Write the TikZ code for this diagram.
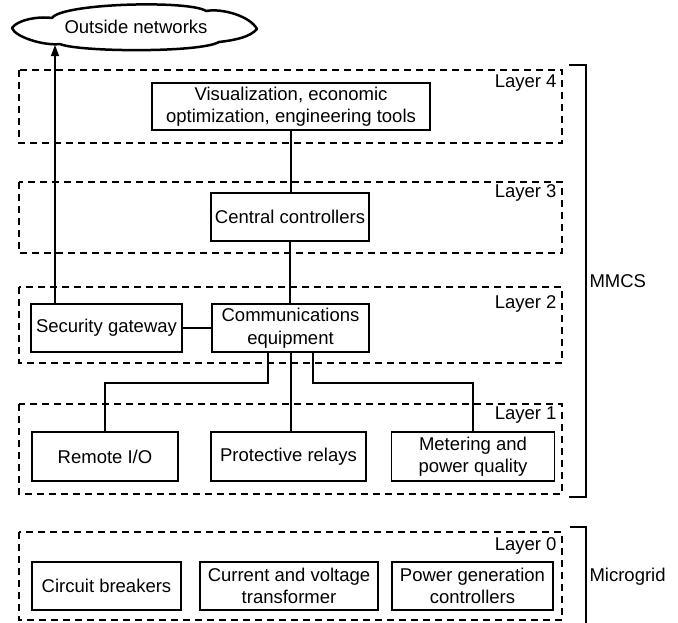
\documentclass[tikz,border=0pt]{standalone}
\usepackage{fontspec}
\setmainfont{Liberation Sans}
\usetikzlibrary{arrows.meta,calc}
\begin{document}
\begin{tikzpicture}[x=1pt,y=-1pt,
  font=\fontsize{18.5}{22.5}\selectfont,
  box/.style={draw,line width=1.5pt,inner sep=0pt,align=center,minimum height=48pt},
  layerbox/.style={draw,line width=1.5pt,dash pattern=on 7pt off 5pt},
  bracket/.style={draw,line width=2pt},
  conn/.style={draw,line width=1.5pt},
  cloudline/.style={draw,line width=2.5pt,line join=round}]
\useasboundingbox (0,0) rectangle (678,622);
% cloud
\draw[cloudline] (12,28) .. controls (17,20) and (38,16) .. (52,18)
  .. controls (62,3) and (190,0) .. (206,11)
  .. controls (222,8) and (250,16) .. (257,29)
  .. controls (250,37) and (236,40) .. (219,42)
  .. controls (200,53) and (78,52) .. (60,44)
  .. controls (44,46) and (15,37) .. (12,28) -- cycle;
\node (cloudtxt) at (136,27) {Outside networks};
\coordinate (cloudin) at (55,45);
% layer boxes
\draw[layerbox] (19,70) rectangle (562,143);
\draw[layerbox] (19,182) rectangle (562,253);
\draw[layerbox] (19,287) rectangle (562,363);
\draw[layerbox] (19,404) rectangle (562,494);
\draw[layerbox] (19,532) rectangle (562,620);
\node[anchor=east] (l4) at (560,83) {Layer 4};
\node[anchor=east] (l3) at (560,193) {Layer 3};
\node[anchor=east] (l2) at (560,304) {Layer 2};
\node[anchor=east] (l1) at (560,415) {Layer 1};
\node[anchor=east] (l0) at (560,546) {Layer 0};
% boxes
\node[box,minimum width=278pt,minimum height=47pt] (vis) at (291,106.5) {Visualization, economic\\optimization, engineering tools};
\node[box,minimum width=158pt] (cc) at (290,217) {Central controllers};
\node[box,minimum width=151pt] (sg) at (106.5,328) {Security gateway};
\node[box,minimum width=157pt] (comm) at (290.5,328) {Communications\\equipment};
\node[box,minimum width=146pt,minimum height=49pt] (rio) at (105,456.5) {Remote I/O};
\node[box,minimum width=155pt,minimum height=49pt] (pr) at (288.5,456.5) {Protective relays};
\node[box,minimum width=163pt,minimum height=49pt] (mpq) at (473,456.5) {Metering and\\power quality};
\node[box,minimum width=149pt] (cb) at (106.5,586) {Circuit breakers};
\node[box,minimum width=178pt] (cvt) at (289,586) {Current and voltage\\transformer};
\node[box,minimum width=161pt] (pgc) at (472.5,586) {Power generation\\controllers};
% connectors
\draw[conn] (vis.south) -- (vis.south |- cc.north);
\draw[conn] (cc.south) -- (cc.south |- comm.north);
\draw[conn] (sg.east) -- (comm.west);
\draw[conn] ([xshift=-22.5pt]comm.south) -- ++(0,30) -| (rio.north);
\draw[conn] ([xshift=0.5pt]comm.south) -- ([xshift=0.5pt]comm.south |- pr.north);
\draw[conn] ([xshift=22.5pt]comm.south) -- ++(0,30) -| (mpq.north);
\draw[conn,-{Triangle[length=11pt,width=8pt]}] ([xshift=-51.5pt]sg.north) -- (cloudin);
% brackets
\draw[bracket] (569,65) -- (586,65) -- (586,497) -- (569,497);
\node[anchor=west] (mmcs) at (586,281) {MMCS};
\draw[bracket] (570,527) -- (586,527) -- (586,625);
\node[anchor=west] (mg) at (586,577) {Microgrid};
\end{tikzpicture}
\end{document}
